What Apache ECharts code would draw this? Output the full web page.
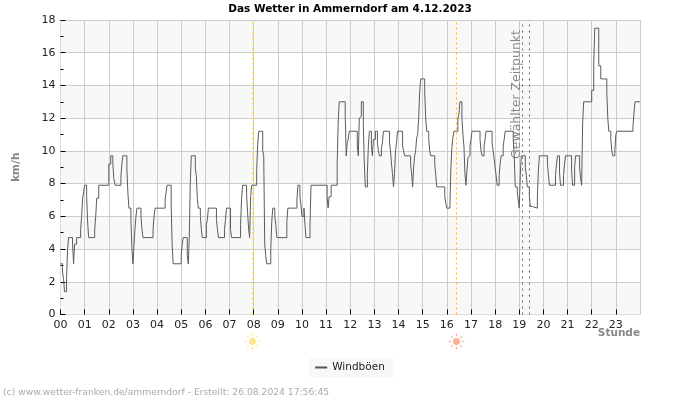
<!DOCTYPE html>
<html><head><meta charset="utf-8">
<style>html,body{margin:0;padding:0;background:#fff}#c{width:700px;height:400px}</style>
<script src="https://cdn.jsdelivr.net/npm/echarts@6/dist/echarts.min.js"></script>
</head><body><div id="c"></div>
<script>
const hourLabels = ['00','01','02','03','04','05','06','07','08','09','10','11','12','13','14','15','16','17','18','19','20','21','22','23'];
const gustMinutes = [0,5,7.5,10,15,17.5,20,30,32.5,35,40,50,52.5,55,57.5,60,65,67.5,70,85,87.5,90,95,120,125,130,132.5,136,150,152.5,155,165,167.5,170,175,177.5,180,182.5,185,187.5,190,200,202.5,205,230,232.5,235,260,262.5,265,275,277.5,280,300,302.5,305,315,317.5,320,322.5,325,335,337.5,340,342.5,347.5,350,352.5,362.5,365,367.5,387.5,390,392.5,395,407.5,410,412.5,422.5,425,427.5,447.5,450,452.5,455,462.5,465,467.5,470,472.5,475,477.5,487.5,490,492.5,502.5,505,507.5,510,512.5,522.5,525,527.5,532.5,535,537.5,562.5,565,587.5,590,595,597.5,600,605,607.5,610,620,622.5,662.5,665,667.5,672.5,687.5,690,692.5,707.5,710,712.5,715,717.5,737.5,740,742.5,745,747.5,752.5,755,757.5,762.5,765,767.5,772.5,775,777.5,782.5,787.5,790,792.5,797.5,800,802.5,817.5,820,822.5,825,827.5,830,832.5,835,837.5,850,852.5,855,870,872.5,875,877.5,880,882.5,885,887.5,890,892.5,895,905,907.5,910,915,917.5,920,930,932.5,935,955,957.5,960,967.5,970,972.5,975,977.5,987.5,990,992.5,997.5,1000,1002.5,1005,1007.5,1010,1012.5,1015,1017.5,1020,1022.5,1042.5,1045,1047.5,1052.5,1055,1057.5,1072.5,1075,1077.5,1080,1082.5,1085,1090,1092.5,1095,1100,1102.5,1105,1125,1127.5,1130,1135,1137.5,1140,1142.5,1145,1155,1157.5,1160,1165,1167.5,1172.5,1185,1187.5,1190,1210,1212.5,1215,1230,1232.5,1235,1240,1242.5,1250,1252.5,1255,1270,1272.5,1277.5,1280,1290,1292.5,1295,1297.5,1300,1320,1325,1327.5,1337.5,1342.5,1357.5,1360,1362.5,1367.5,1370,1372.5,1377.5,1380,1382.5,1422.5,1425,1427.5,1440];
const gustValues = [3.1,2.6,2.2,1.4,2.2,3.9,4.7,4.3,3.1,4.3,4.7,5.2,6,7.1,7.5,7.9,7.2,5.6,4.7,5.2,6,7.1,7.9,9.2,9.7,9.2,8.3,7.9,8.4,9.2,9.7,8.9,7.4,6.5,5.7,4,3.1,4.2,5.2,6,6.5,6,5.2,4.7,5.2,6,6.5,7,7.5,7.9,6.7,4.2,3.1,3.6,4.3,4.7,3.6,3.1,4.7,8,9.7,8.9,8.5,7.1,6.5,6,5.2,4.7,5.5,5.8,6.5,5.8,5.2,4.7,4.7,5.2,5.8,6.5,5.2,4.7,4.7,5.5,7.1,7.9,7.9,7.3,6.2,5.2,4.7,7.2,7.9,7.9,8.8,10.4,11.2,10,9.7,4.3,3.6,3.1,4,5.7,6.5,6,5.5,4.7,5.7,6.5,7,7.9,7.2,6.7,6,6.5,5.5,4.7,5.5,7.9,7.2,6.5,7.2,7.9,9.2,11.7,13,12.1,9.7,10.5,10.7,11.2,10.3,9.7,12,12.1,13,11.5,9.2,7.8,8.6,10.3,11.2,10.3,9.7,10.7,11.2,10.5,10,9.7,10.2,10.5,11.2,10.5,10,9.2,8.6,7.8,8.6,10,10.5,11.2,10.3,10,9.7,9.2,8.6,7.8,9,9.7,10,10.8,11,12,13.6,14.4,13.6,12,11.2,10.7,10,9.7,9.2,8.5,7.8,7.2,6.8,6.5,6.5,8.9,10.2,10.8,11.2,12,12.2,13,12,11,10.3,8.6,7.9,8.8,9.6,9.7,10.3,10.7,11.2,10.7,10,9.7,10.3,10.7,11.2,10.5,10,9.5,9,8.5,7.9,8.5,9.2,9.7,10.3,10.7,11.2,10.7,9.7,7.8,7.5,7,6.5,8.5,9.7,9,8.5,7.8,7.2,6.6,6.5,7.2,8.8,9.7,9.2,8.5,7.9,8.5,9.2,9.7,8.7,7.9,8.5,9.2,9.7,8.8,7.9,9,9.7,9,8.3,7.9,11.7,13,13.7,15.3,17.5,15.2,14.4,13.6,12,11.2,10.7,10,9.7,10,11,11.2,11.5,12.3,13,13];
const sunriseMinute = 477;
const sunsetMinute = 984;
const selectedMinutes = [1147, 1165];
const selectedLabel = 'Gewählter Zeitpunkt';
const seriesName = 'Windböen';
const xAxisTitle = 'Stunde';
const titleText = 'Das Wetter in Ammerndorf am 4.12.2023';
const footerText = '(c) www.wetter-franken.de/ammerndorf - Erstellt: 26.08.2024 17:56:45';
const font = '"DejaVu Sans"';

const sunPath = 'path://M50 30a20 20 0 1 0 0.01 0zM47 4h6v16h-6zM47 80h6v16h-6zM4 47h16v6H4zM80 47h16v6H80zM15 19l4-4 12 12-4 4zM69 73l4-4 12 12-4 4zM81 15l4 4-12 12-4-4zM27 69l4 4-12 12-4-4z';

const chart = echarts.init(document.getElementById('c'), null, {renderer:'canvas'});
chart.setOption({
  animation:false,
  backgroundColor:'#fff',
  title:{text:titleText,left:'center',top:-1,textStyle:{fontFamily:font,fontSize:10.5,fontWeight:'bold',color:'#000'}},
  legend:{bottom:23,left:'center',backgroundColor:'#f8f8f8',padding:[4,9,4,6],itemWidth:12,itemHeight:10,itemGap:8,
    data:[{name:seriesName,icon:'path://M0 4h12v2H0z'}],
    textStyle:{fontFamily:font,fontSize:10.5,color:'#222'}},
  grid:{left:60.5,right:60,top:20,bottom:85.5,show:false},
  graphic:[
    {type:'text',left:3,top:388,style:{text:footerText,font:'9.2px '+font,fill:'#aaa'}},
    {type:'text',right:60,top:328,style:{text:xAxisTitle,font:'bold 10.5px '+font,fill:'#888'}}
  ],
  xAxis:{type:'value',min:0,max:1440,interval:60,
    axisLine:{show:true,lineStyle:{color:'#ddd',width:1}},
    axisTick:{show:true,inside:true,length:5,lineStyle:{color:'#000',width:1}},
    axisLabel:{fontFamily:font,fontSize:11,color:'#222',margin:5,showMaxLabel:false,
      formatter:v=>hourLabels[v/60]||''},
    splitLine:{show:true,lineStyle:{color:'#ccc',width:1}}},
  yAxis:{type:'value',min:0,max:18,interval:2,
    name:'km/h',nameLocation:'middle',nameGap:39,
    nameTextStyle:{fontFamily:font,fontSize:10.5,fontWeight:'bold',color:'#888'},
    axisLine:{show:true,lineStyle:{color:'#ddd',width:1}},
    axisTick:{show:true,inside:true,length:5,lineStyle:{color:'#000',width:1}},
    minorTick:{show:true,splitNumber:2,length:3,lineStyle:{color:'#000',width:1}},
    axisLabel:{fontFamily:font,fontSize:11,color:'#222',margin:5},
    splitLine:{show:true,lineStyle:{color:'#ccc',width:1}},
    splitArea:{show:true,areaStyle:{color:['#f8f8f8','#fff']}}},
  series:[{
    name:seriesName,type:'line',step:'end',showSymbol:false,z:5,clip:false,
    lineStyle:{color:'#5c5c5c',width:1},itemStyle:{color:'#555'},
    data:gustMinutes.map((m,i)=>[m,gustValues[i]]),
    markLine:{silent:true,symbol:'none',animation:false,
      data:[
        {xAxis:sunriseMinute,lineStyle:{color:'#fbe85c',type:[2,3],width:1},label:{show:false}},
        {xAxis:sunsetMinute,lineStyle:{color:'#fbb440',type:[2,3],width:1},label:{show:false}},
        {xAxis:selectedMinutes[0],lineStyle:{color:'#666',type:[2,4],width:1},
          label:{show:true,formatter:selectedLabel,position:'insideEndTop',distance:[10,-1],fontFamily:font,fontSize:12.5,color:'#888'}},
        {xAxis:selectedMinutes[1],lineStyle:{color:'#666',type:[2,4],width:1},label:{show:false}}
      ]},
    markPoint:{silent:true,symbol:sunPath,symbolSize:16,symbolOffset:[0,27],label:{show:false},animation:false,
      data:[
        {coord:[sunriseMinute,0],itemStyle:{color:'#fde68f'}},
        {coord:[sunsetMinute,0],itemStyle:{color:'#fbb09a'}}
      ]}
  }]
});
</script></body></html>
